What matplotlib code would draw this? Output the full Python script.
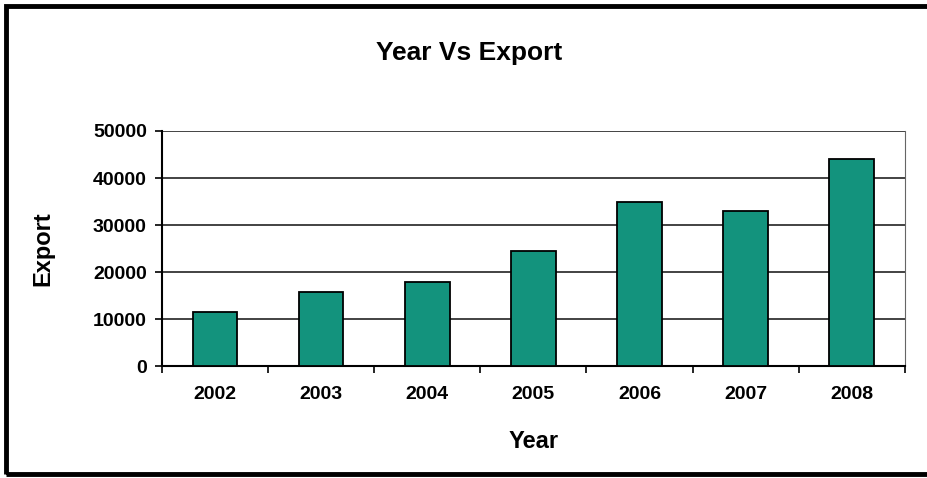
"""Year vs Export bar chart."""

import numpy as np
import matplotlib
matplotlib.use('Agg')
import matplotlib.pyplot as plt
from matplotlib.patches import Rectangle

years = ['2002', '2003', '2004', '2005', '2006', '2007', '2008']
exports = [11500, 15700, 17800, 24500, 35000, 33000, 44000]
y_ticks = [0, 10000, 20000, 30000, 40000, 50000]

plt.rcParams['font.family'] = ['Liberation Sans', 'DejaVu Sans']
plt.rcParams['font.weight'] = 'bold'

fig = plt.figure(figsize=(9.28, 4.78), dpi=100)
ax = fig.add_axes([0.1746, 0.234, 0.975 - 0.1746, 0.726 - 0.234])

x = np.arange(len(years))
ax.bar(x, exports, width=0.42, color='#13937d', edgecolor='black',
       linewidth=1.3, zorder=3)

ax.set_ylim(0, 50000)
ax.set_xlim(-0.5, len(years) - 0.5)
ax.set_yticks(y_ticks)
ax.set_yticklabels([str(v) for v in y_ticks], fontsize=14, fontweight='bold')
ax.set_xticks(x)
ax.set_xticklabels(years, fontsize=14, fontweight='bold')
ax.set_xticks(np.arange(len(years) + 1) - 0.5, minor=True)
ax.tick_params(axis='x', which='major', length=0, pad=14)
ax.tick_params(axis='x', which='minor', length=5, width=1.2, direction='out')
ax.tick_params(axis='y', length=5, width=1.2, direction='out', pad=6)

ax.yaxis.grid(True, color='#222222', linewidth=1.2, zorder=0)
ax.set_axisbelow(True)
ax.spines['top'].set_visible(False)
ax.spines['left'].set_linewidth(1.5)
ax.spines['bottom'].set_linewidth(1.5)
ax.spines['right'].set_linewidth(0.8)
ax.spines['right'].set_color('#666666')

ax.set_xlabel('Year', fontsize=17, fontweight='bold', labelpad=20)
ax.set_ylabel('Export', fontsize=17, fontweight='bold', labelpad=28)

fig.text(0.505, 0.890, 'Year Vs Export', ha='center', va='center',
         fontsize=19, fontweight='bold')

# outer frame of the original chart box
fig.add_artist(Rectangle((0.006, 0.009), 1.2, 0.978, transform=fig.transFigure,
                         fill=False, edgecolor='black', linewidth=3.5,
                         clip_on=False))

fig.savefig('out.png', dpi=100)
